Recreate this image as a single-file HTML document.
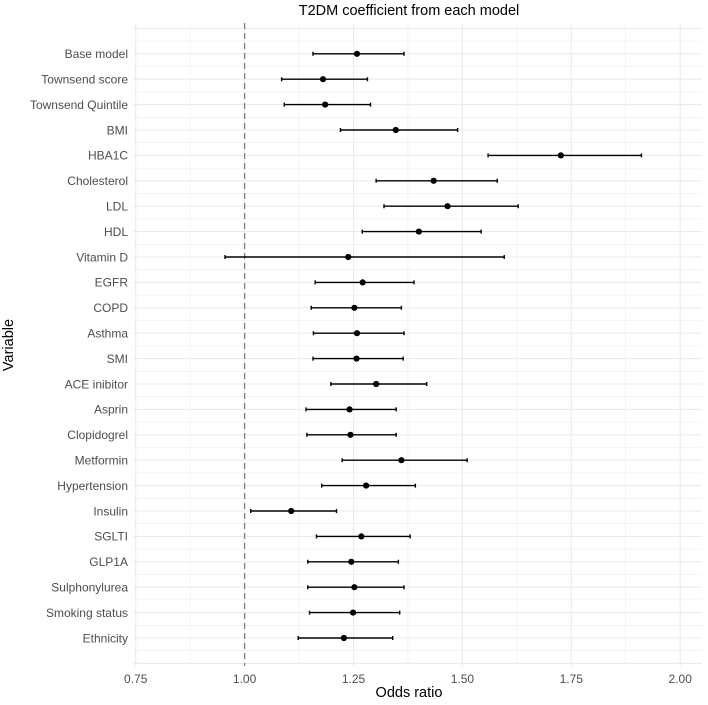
<!DOCTYPE html>
<html><head><meta charset="utf-8"><style>
html,body{margin:0;padding:0;background:#fff;}
svg{display:block;font-family:"Liberation Sans",sans-serif;}
</style></head><body>
<svg id="chart" width="708" height="705" viewBox="0 0 708 705">
<text x="409" y="15" text-anchor="middle" font-size="14.5" fill="#000">T2DM coefficient from each model</text>
<g id="grid"></g>
<g id="marks"></g>
<g id="axes"></g>
<text x="409" y="697" text-anchor="middle" font-size="14.5" fill="#000">Odds ratio</text>
<text transform="translate(13,345) rotate(-90)" text-anchor="middle" font-size="14.5" fill="#000">Variable</text>
</svg>
<script>
const categories = ["Base model","Townsend score","Townsend Quintile","BMI","HBA1C","Cholesterol","LDL","HDL","Vitamin D","EGFR","COPD","Asthma","SMI","ACE inibitor","Asprin","Clopidogrel","Metformin","Hypertension","Insulin","SGLTI","GLP1A","Sulphonylurea","Smoking status","Ethnicity"];
const estimate = [1.258,1.180,1.185,1.347,1.726,1.434,1.466,1.400,1.238,1.271,1.252,1.258,1.257,1.302,1.241,1.243,1.360,1.279,1.107,1.268,1.245,1.252,1.249,1.228];
const lower = [1.157,1.085,1.091,1.220,1.559,1.302,1.320,1.270,0.955,1.162,1.153,1.158,1.157,1.198,1.141,1.143,1.224,1.177,1.014,1.165,1.145,1.145,1.149,1.123];
const upper = [1.366,1.282,1.289,1.489,1.911,1.580,1.628,1.543,1.596,1.389,1.360,1.366,1.364,1.418,1.348,1.348,1.511,1.392,1.211,1.380,1.353,1.366,1.356,1.340];
const xTicks = [0.75,1.00,1.25,1.50,1.75,2.00];
const xTickLabels = ["0.75","1.00","1.25","1.50","1.75","2.00"];
const refLine = 1.0;

const NS="http://www.w3.org/2000/svg";
const PL=133, PR=702, PT=23, PB=666;
function xs(v){return 244.6+(v-1)*435.6;}
function ys(i){return 53.8+i*25.4;}
function mk(tag,attrs,parent){const e=document.createElementNS(NS,tag);for(const k in attrs)e.setAttribute(k,attrs[k]);parent.appendChild(e);return e;}
const grid=document.getElementById('grid'),marks=document.getElementById('marks'),axes=document.getElementById('axes');
// horizontal grid
for(let k=-2;k<=2*categories.length;k++){
  const y=53.8+k*12.7;
  const l=mk('line',{x1:PL,x2:PR,y1:y,y2:y,stroke:'#ebebeb','stroke-width':(k%2===0)?1.1:0.55},grid);
  
  
}
// vertical grid
for(let t=0;t<xTicks.length;t++){
  const x=xs(xTicks[t]);
  const l=mk('line',{x1:x,x2:x,y1:PT,y2:PB,stroke:'#ebebeb','stroke-width':1.1},grid);
  
  
  if(t<xTicks.length-1){
    const xm=xs((xTicks[t]+xTicks[t+1])/2);
    const m=mk('line',{x1:xm,x2:xm,y1:PT,y2:PB,stroke:'#ebebeb','stroke-width':0.55},grid);
    
    
  }
  const tx=mk('text',{x:x,y:683,'text-anchor':'middle','font-size':12,fill:'#4d4d4d'},axes);
  tx.textContent=xTickLabels[t];
  
  
}
// reference line
const rx=xs(refLine);
const rl=mk('line',{x1:rx,x2:rx,y1:PT,y2:PB,stroke:'#808080','stroke-width':1.3,'stroke-dasharray':'6,4'},marks);


categories.forEach((c,i)=>{
  const y=ys(i);
  const g=mk('g',{},marks);
  
  
  const x1=xs(lower[i]),x2=xs(upper[i]);
  const eb=mk('path',{d:`M${x1},${y}H${x2}M${x1},${y-2}V${y+2}M${x2},${y-2}V${y+2}`,stroke:'#000','stroke-width':1.4,fill:'none'},g);
  
  
  const p=mk('circle',{cx:xs(estimate[i]),cy:y,r:3.1,fill:'#000'},g);
  
  
  const t=mk('text',{x:128,y:y+4.3,'text-anchor':'end','font-size':12,fill:'#4d4d4d'},axes);
  t.textContent=c;
  
  
});
</script>
</body></html>
